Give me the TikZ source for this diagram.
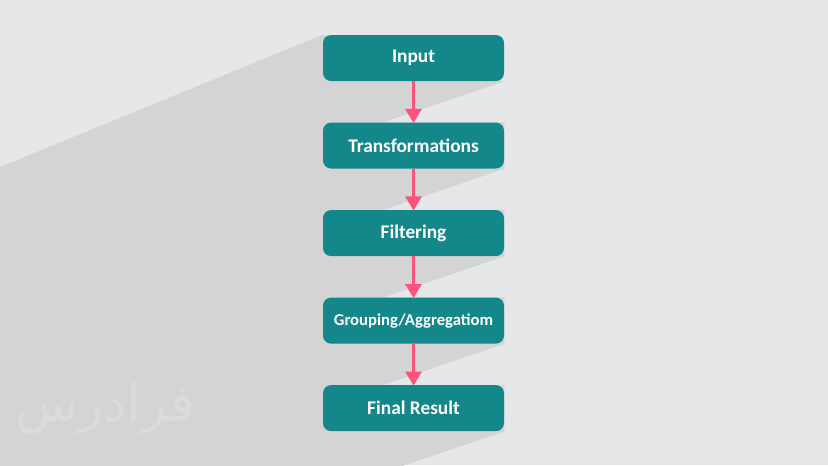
\documentclass[tikz,border=0pt]{standalone}
\usepackage{fontspec}
\setmainfont{Carlito}
\newfontfamily\arabicfont[Script=Arabic]{DejaVu Sans}
\TeXXeTstate=1
\usetikzlibrary{arrows.meta,positioning,calc,backgrounds}

\definecolor{bgcol}{HTML}{E6E7E9}
\definecolor{shadowcol}{HTML}{D4D4D4}
\definecolor{tealcol}{HTML}{13878A}
\definecolor{pinkcol}{HTML}{FF5279}
\definecolor{markcol}{HTML}{DBDBDB}

\begin{document}
\begin{tikzpicture}[
        x=0.75pt, y=-0.75pt,
        node distance=30.75pt,
        box/.style={rectangle, rounded corners=6pt, fill=tealcol, text=white, minimum width=135.75pt, minimum height=34.5pt, align=center, font=\bfseries\fontsize{14.5}{16}\selectfont},
        arrow/.style={-{Triangle[width=12pt, length=10.5pt]}, line width=2.3pt, pinkcol, shorten >=-0.5pt}
    ]
        \useasboundingbox (0,0) rectangle (828,465);

        \node[box] (input) at (413.5,58) {Input};
        \node[box, below=of input] (trans) {Transformations};
        \node[box, below=of trans] (filter) {Filtering};
        \node[box, below=of filter] (group) {\fontsize{12.5}{14}\selectfont Grouping/Aggregatiom};
        \node[box, below=of group] (result) {Final Result};

        \draw[arrow] (input) -- (trans);
        \draw[arrow] (trans) -- (filter);
        \draw[arrow] (filter) -- (group);
        \draw[arrow] (group) -- (result);

        % background and long shadow
        \begin{scope}[on background layer]
            \fill[bgcol] (0,0) rectangle (828,465);
            \clip (0,0) rectangle (828,465);
            \fill[shadowcol] (input.north west) -- (input.south east)
                -- ($(input.south east)+(-700,238)$) -- ($(input.north west)+(-700,287)$) -- cycle;
            \foreach \b in {trans,filter,group,result} {
                \fill[shadowcol] (\b.north west) -- (\b.north east) -- (\b.south east)
                    -- ($(\b.south east)+(-700,238)$) -- ($(\b.north west)+(-700,238)$) -- cycle;
            }
        \end{scope}

        % watermark
        \node[markcol, font=\arabicfont\fontsize{39}{44}\selectfont] (mark) at (105,408) {\beginR فرادرس\endR};
    \end{tikzpicture}
\end{document}
